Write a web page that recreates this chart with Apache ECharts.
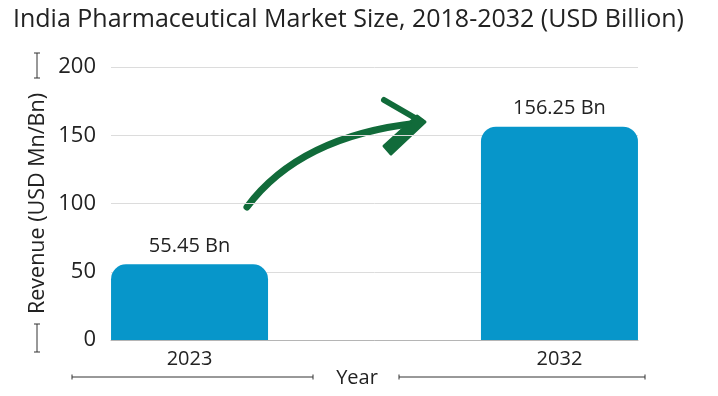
<!DOCTYPE html>
<html><head><meta charset="utf-8">
<script src="https://cdn.jsdelivr.net/npm/echarts@6/dist/echarts.min.js"></script>
<style>html,body{margin:0;padding:0;background:#fff}#c{width:718px;height:396px}</style>
</head><body><div id="c"></div>
<script>
const chartTitle = 'India Pharmaceutical Market Size, 2018-2032 (USD Billion)';
const categories = ['2023', '2032'];
const revenue = [55.45, 156.25];
const yTickValues = [0, 50, 100, 150, 200];
const yAxisTitle = 'Revenue (USD Mn/Bn)';
const xAxisTitle = 'Year';
const labelSuffix = ' Bn';

const FONT = '"Open Sans", "Liberation Sans", Arial, sans-serif';
const TXT = '#222222';
const GREEN = '#116b3a';
const chart = echarts.init(document.getElementById('c'));

chart.setOption({
  animation: false,
  backgroundColor: '#ffffff',
  textStyle: { fontFamily: FONT },
  title: {
    text: chartTitle, left: 8, top: 2,
    textStyle: { fontFamily: FONT, fontSize: 25, fontWeight: 'normal', color: TXT }
  },
  grid: { left: 111, right: 80, top: 67, bottom: 56, containLabel: false, outerBoundsMode: 'none' },
  xAxis: {
    type: 'value', min: -0.2123, max: 1.2123,
    axisLine: { show: true, lineStyle: { color: '#b5b5b5', width: 1 } },
    axisTick: { show: false },
    splitLine: { show: false },
    axisLabel: {
      customValues: categories.map((c, i) => i),
      formatter: v => categories[Math.round(v)] || '',
      fontSize: 20, color: TXT, margin: 9, fontFamily: FONT
    },
    name: xAxisTitle, nameLocation: 'middle', nameGap: 28, nameMoveOverlap: false,
    nameTextStyle: { fontSize: 20, color: TXT, fontFamily: FONT, padding: [0, 35, 0, 0] }
  },
  yAxis: {
    type: 'value', min: yTickValues[0], max: yTickValues[yTickValues.length - 1], interval: 50,
    axisLine: { show: false }, axisTick: { show: false },
    splitLine: { show: true, lineStyle: { color: '#dcdcdc', width: 1 } },
    axisLabel: { fontSize: 22, color: TXT, margin: 15, fontFamily: FONT },
    name: yAxisTitle, nameLocation: 'middle', nameRotate: 90, nameGap: 62, nameMoveOverlap: false,
    nameTextStyle: { fontSize: 21.5, color: TXT, fontFamily: FONT }
  },
  series: [{
    type: 'bar',
    barWidth: 157,
    data: revenue.map((v, i) => [i, v]),
    itemStyle: { color: '#0796ca', borderRadius: [15, 15, 0, 0] },
    label: {
      show: true, position: 'top', distance: 8,
      formatter: p => p.value[1] + labelSuffix,
      fontSize: 20, color: TXT, fontFamily: FONT
    }
  }],
  graphic: [
    // y-axis title brackets
    { type: 'line', shape: { x1: 37, y1: 53, x2: 37, y2: 78 }, style: { stroke: '#333', lineWidth: 1 } },
    { type: 'line', shape: { x1: 34, y1: 53, x2: 40, y2: 53 }, style: { stroke: '#333', lineWidth: 1 } },
    { type: 'line', shape: { x1: 34, y1: 78, x2: 40, y2: 78 }, style: { stroke: '#333', lineWidth: 1 } },
    { type: 'line', shape: { x1: 37, y1: 324, x2: 37, y2: 352 }, style: { stroke: '#333', lineWidth: 1 } },
    { type: 'line', shape: { x1: 34, y1: 324, x2: 40, y2: 324 }, style: { stroke: '#333', lineWidth: 1 } },
    { type: 'line', shape: { x1: 34, y1: 352, x2: 40, y2: 352 }, style: { stroke: '#333', lineWidth: 1 } },
    // x-axis title lines
    { type: 'line', shape: { x1: 72, y1: 377, x2: 313, y2: 377 }, style: { stroke: '#333', lineWidth: 1 } },
    { type: 'line', shape: { x1: 72, y1: 374.5, x2: 72, y2: 379.5 }, style: { stroke: '#333', lineWidth: 1 } },
    { type: 'line', shape: { x1: 313, y1: 374.5, x2: 313, y2: 379.5 }, style: { stroke: '#333', lineWidth: 1 } },
    { type: 'line', shape: { x1: 399, y1: 377, x2: 645, y2: 377 }, style: { stroke: '#333', lineWidth: 1 } },
    { type: 'line', shape: { x1: 399, y1: 374.5, x2: 399, y2: 379.5 }, style: { stroke: '#333', lineWidth: 1 } },
    { type: 'line', shape: { x1: 645, y1: 374.5, x2: 645, y2: 379.5 }, style: { stroke: '#333', lineWidth: 1 } },
    // green growth arrow
    { type: 'bezierCurve', shape: { x1: 247, y1: 207, cpx1: 300, cpy1: 136, x2: 418, y2: 123 },
      style: { stroke: GREEN, lineWidth: 7, fill: null, lineCap: 'round' } },
    { type: 'line', shape: { x1: 384, y1: 100, x2: 422, y2: 122 }, style: { stroke: GREEN, lineWidth: 6, lineCap: 'round' } },
    { type: 'polygon', shape: { points: [[425, 122], [417, 116], [384, 146], [391, 154]] }, style: { fill: GREEN, stroke: GREEN, lineWidth: 3, lineJoin: 'round' } }
  ]
});
</script>
</body></html>
